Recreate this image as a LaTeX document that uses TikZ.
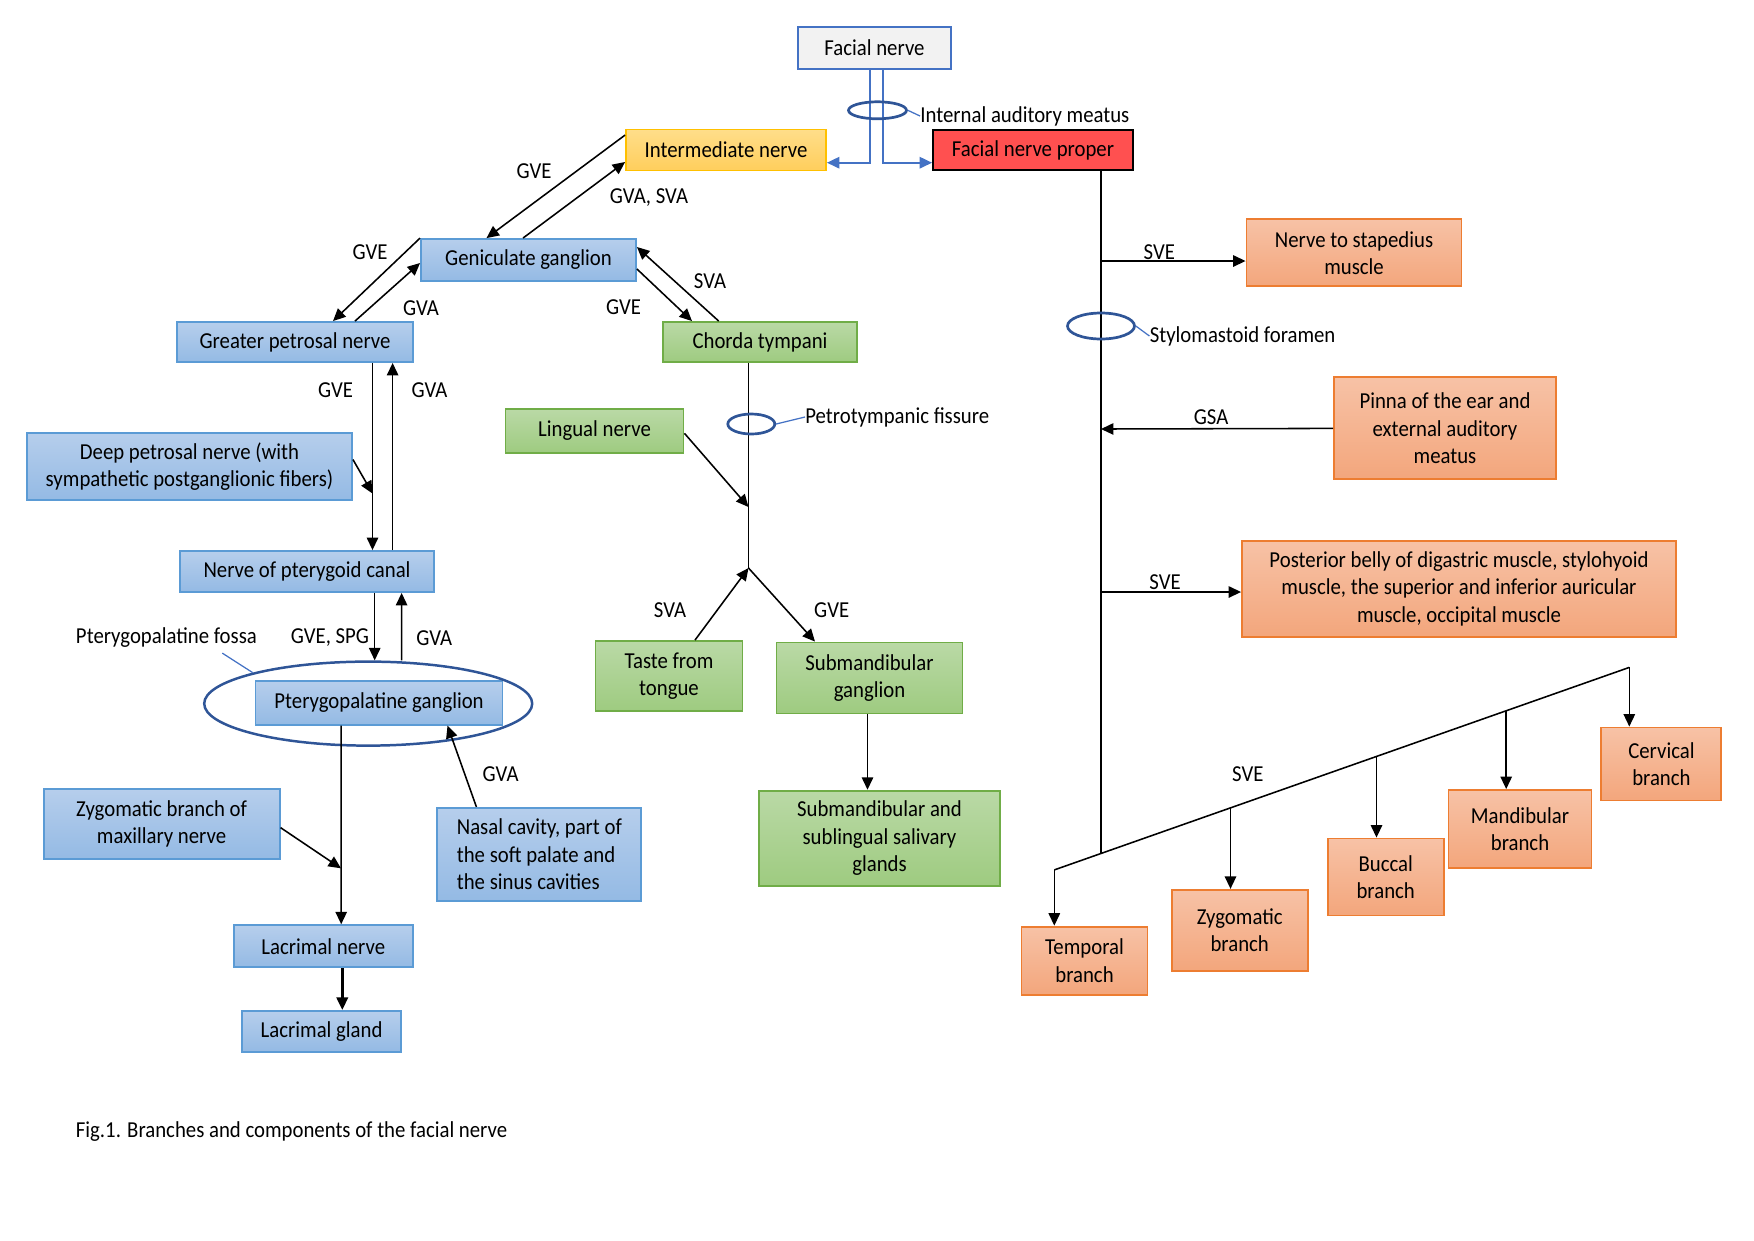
\documentclass[tikz,border=0pt]{standalone}
\usepackage{fontspec}
\setmainfont{Carlito}[FakeStretch=0.91]
\usetikzlibrary{arrows.meta,shapes.geometric}

\newcommand{\un}{0.016933cm}
\definecolor{edgeblue}{RGB}{91,155,213}
\definecolor{bluetop}{RGB}{182,206,236}
\definecolor{bluebot}{RGB}{148,186,228}
\definecolor{edgegreen}{RGB}{112,173,71}
\definecolor{greentop}{RGB}{186,217,166}
\definecolor{greenbot}{RGB}{158,203,128}
\definecolor{edgeorange}{RGB}{237,125,49}
\definecolor{orangetop}{RGB}{247,194,166}
\definecolor{orangebot}{RGB}{243,166,124}
\definecolor{edgeyellow}{RGB}{255,192,0}
\definecolor{yellowtop}{RGB}{255,222,138}
\definecolor{yellowbot}{RGB}{255,206,92}
\definecolor{nervered}{RGB}{255,80,80}
\definecolor{lineblue}{RGB}{68,114,196}
\definecolor{ringblue}{RGB}{47,85,151}

\begin{document}
\begin{tikzpicture}[x=0.016933cm,y=-0.016933cm,
    font=\fontsize{11}{13.2}\selectfont,
    box/.style={draw,line width=0.9pt,align=center,inner sep=1pt},
    sz/.style 2 args={minimum width=#1*\un,minimum height=#2*\un},
    bluebox/.style={box,draw=edgeblue,top color=bluetop,bottom color=bluebot},
    greenbox/.style={box,draw=edgegreen,top color=greentop,bottom color=greenbot},
    orangebox/.style={box,draw=edgeorange,top color=orangetop,bottom color=orangebot},
    arr/.style={line width=0.75pt,-{Triangle[length=6pt,width=5.5pt]}},
    bluearr/.style={draw=lineblue,line width=0.9pt,-{Triangle[length=6pt,width=5.5pt]}},
    ring/.style={ellipse,draw=ringblue,line width=1.3pt,inner sep=0pt},
    lbl/.style={inner sep=0pt}]
        \useasboundingbox (0,0) rectangle (1754,1240);
        % top
        \node[box,draw=lineblue,fill=black!5,sz={153}{42}] (fac) at (874.5,48) {Facial nerve};
        \node[box,draw=edgeyellow,top color=yellowtop,bottom color=yellowbot,sz={200}{41}] (inter) at (726,150) {Intermediate nerve};
        \node[box,draw=black,fill=nervered,sz={200}{40}] (fnp) at (1033,150) {Facial nerve proper};
        \draw[bluearr] ([xshift=-4.5*\un]fac.south) |- ([yshift=-12.7*\un]inter.east);
        \draw[bluearr] ([xshift=8.2*\un]fac.south) |- ([yshift=-12.7*\un]fnp.west);
        \node[ring,sz={58}{17}] (iamring) at (877.5,110.3) {};
        \node[lbl,anchor=west] (iamlbl) at (920,116) {Internal auditory meatus};
        \draw[lineblue,line width=0.6pt] (iamring.east) -- (iamlbl.west);

        % greater petrosal pathway
        \node[bluebox,sz={215}{42}] (gen) at (528.5,260) {Geniculate ganglion};
        \node[bluebox,sz={236}{40}] (gpn) at (295,342) {Greater petrosal nerve};
        \node[bluebox,sz={325}{67}] (dpn) at (189.5,466.5) {Deep petrosal nerve (with\\sympathetic postganglionic fibers)};
        \node[bluebox,sz={254}{41}] (npc) at (307,571.5) {Nerve of pterygoid canal};
        \node[bluebox,sz={247}{44}] (ptg) at (379,702.7) {Pterygopalatine ganglion};
        \node[ring,sz={328}{84},line width=1.2pt] (fossa) at (368.2,703.6) {};
        \node[bluebox,sz={236}{70}] (zyg) at (161.6,824.2) {Zygomatic branch of\\maxillary nerve};
        \node[bluebox,sz={204}{93},align=left] (nasal) at (539.4,854.3) {Nasal cavity, part of\\the soft palate and\\the sinus cavities};
        \node[bluebox,sz={179}{42}] (lacn) at (323.3,946.2) {Lacrimal nerve};
        \node[bluebox,sz={159}{41}] (lacg) at (321.6,1031.3) {Lacrimal gland};
        \coordinate (j1) at (372.5,493.5);
        \coordinate (j2) at (341,868.3);

        \draw[arr] ([yshift=-6.5*\un]inter.north west) -- ([xshift=-42*\un]gen.north);
        \draw[arr] ([xshift=-5.5*\un]gen.north) -- ([yshift=-12*\un]inter.west);
        \draw[arr] (gen.north west) -- ([xshift=38*\un]gpn.north);
        \draw[arr] ([xshift=60*\un]gpn.north) -- ([yshift=-3*\un]gen.west);
        \draw[arr] ([xshift=77.5*\un]gpn.south) -- ([xshift=65.5*\un]npc.north);
        \draw[arr] ([xshift=85.6*\un]npc.north) -- ([xshift=97.6*\un]gpn.south);
        \draw[arr] ([yshift=7*\un]dpn.east) -- (j1);
        \draw[arr] ([xshift=67.7*\un]npc.south) -- ([xshift=6.5*\un]fossa.north);
        \draw[arr] ([xshift=33.4*\un]fossa.north) -- ([xshift=94.6*\un]npc.south);
        \draw[arr] ([xshift=-37.8*\un]ptg.south) -- ([xshift=17.9*\un]lacn.north);
        \draw[arr] ([yshift=-3.4*\un]zyg.east) -- (j2);
        \draw[arr] ([xshift=-63*\un]nasal.north) -- ([xshift=68.5*\un]ptg.south);
        \draw[arr,line width=1.2pt] ([xshift=19*\un]lacn.south) -- ([xshift=20.7*\un]lacg.north);

        \node[lbl] (l1) at (534,171) {GVE};
        \node[lbl] (l2) at (649,198) {GVA, SVA};
        \node[lbl] (l3) at (370,252) {GVE};
        \node[lbl] (l4) at (421,308) {GVA};
        \node[lbl] (l5) at (335.6,390.6) {GVE};
        \node[lbl] (l6) at (429.5,390.6) {GVA};
        \node[lbl] (l7) at (330,637.8) {GVE, SPG};
        \node[lbl] (l8) at (434.3,637.8) {GVA};
        \node[lbl] (l9) at (500.6,774.2) {GVA};
        \node[lbl,anchor=west] (fosslbl) at (75.5,637.8) {Pterygopalatine fossa};
        \draw[lineblue,line width=0.6pt] ([xshift=-35*\un,yshift=-5*\un]fosslbl.south east) -- (fossa.165);

        % chorda tympani
        \node[greenbox,sz={194}{40}] (chorda) at (760,342) {Chorda tympani};
        \node[greenbox,sz={178}{44}] (ling) at (594.5,431) {Lingual nerve};
        \node[greenbox,sz={147}{70}] (taste) at (669,676) {Taste from\\tongue};
        \node[greenbox,sz={186}{71}] (smg) at (869.5,678) {Submandibular\\ganglion};
        \node[greenbox,sz={241}{95}] (glands) at (879.5,838.2) {Submandibular and\\sublingual salivary\\glands};
        \coordinate (lj) at (748.5,507);
        \coordinate (cj) at (748.5,568);

        \draw[arr] ([yshift=-9*\un]gen.east) -- ([xshift=-68*\un]chorda.north);
        \draw[arr] ([xshift=-41.3*\un]chorda.north) -- ([yshift=13*\un]gen.east);
        \draw[line width=0.75pt] ([xshift=-11.5*\un]chorda.south) -- (cj);
        \draw[arr] ([yshift=-2.3*\un]ling.east) -- (lj);
        \draw[arr] ([xshift=26*\un]taste.north) -- (cj);
        \draw[arr] (cj) -- ([xshift=-54.5*\un]smg.north);
        \draw[arr] ([xshift=-2*\un]smg.south) -- ([xshift=-12*\un]glands.north);
        \node[ring,sz={47}{20}] (ptfring) at (751.3,424) {};
        \node[lbl,anchor=west] (ptflbl) at (805,417) {Petrotympanic fissure};
        \draw[lineblue,line width=0.6pt] (ptfring.east) -- (ptflbl.west);

        \node[lbl] (l10) at (623.6,307.6) {GVE};
        \node[lbl] (l11) at (710,280.7) {SVA};
        \node[lbl] (l12) at (670,610) {SVA};
        \node[lbl] (l13) at (831.7,610) {GVE};

        % facial nerve proper
        \node[orangebox,sz={215}{67}] (stap) at (1354,252.9) {Nerve to stapedius\\muscle};
        \node[orangebox,sz={222}{102}] (pinna) at (1445,428.4) {Pinna of the ear and\\external auditory\\meatus};
        \node[orangebox,sz={434}{96}] (post) at (1459,588.8) {Posterior belly of digastric muscle, stylohyoid\\muscle, the superior and inferior auricular\\muscle, occipital muscle};
        \node[orangebox,sz={126}{68}] (temp) at (1084.5,960.6) {Temporal\\branch};
        \node[orangebox,sz={136}{81}] (zygb) at (1239.7,930.3) {Zygomatic\\branch};
        \node[orangebox,sz={116}{77}] (bucc) at (1385.7,877) {Buccal\\branch};
        \node[orangebox,sz={143}{78}] (mand) at (1520,829) {Mandibular\\branch};
        \node[orangebox,sz={120}{73}] (cerv) at (1661.4,764) {Cervical\\branch};
        \coordinate (s1) at (1101,261);
        \coordinate (s2) at (1101,429);
        \coordinate (s3) at (1101,592);
        \coordinate (mj) at (1101,853.4);
        \coordinate (sl) at (1054.3,869.9);
        \coordinate (b2) at (1230.5,807.9);
        \coordinate (b3) at (1376.5,756.4);
        \coordinate (b4) at (1506.2,710.8);
        \coordinate (sr) at (1629.3,667.4);

        \draw[line width=0.75pt] ([xshift=68*\un]fnp.south) -- (mj);
        \draw[arr] (s1) -- (s1 -| stap.west);
        \draw[arr] (pinna.west) -- (s2);
        \draw[arr] (s3) -- (s3 -| post.west);
        \draw[line width=0.75pt] (sl) -- (sr);
        \foreach \b/\n in {sl/temp,b2/zygb,b3/bucc,b4/mand,sr/cerv}
            \draw[arr] (\b) -- (\b |- \n.north);
        \node[ring,sz={67}{26}] (smring) at (1101,326) {};
        \node[lbl,anchor=west] (smlbl) at (1149.4,336) {Stylomastoid foramen};
        \draw[lineblue,line width=0.6pt] (smring.east) -- (smlbl.west);

        \node[lbl] (l14) at (1159.4,252.3) {SVE};
        \node[lbl] (l15) at (1211,417) {GSA};
        \node[lbl] (l16) at (1165,582.4) {SVE};
        \node[lbl] (l17) at (1247.8,774.2) {SVE};

        \node[lbl,anchor=west] (caption) at (75.5,1132) {Fig.1. Branches and components of the facial nerve};
\end{tikzpicture}
\end{document}
